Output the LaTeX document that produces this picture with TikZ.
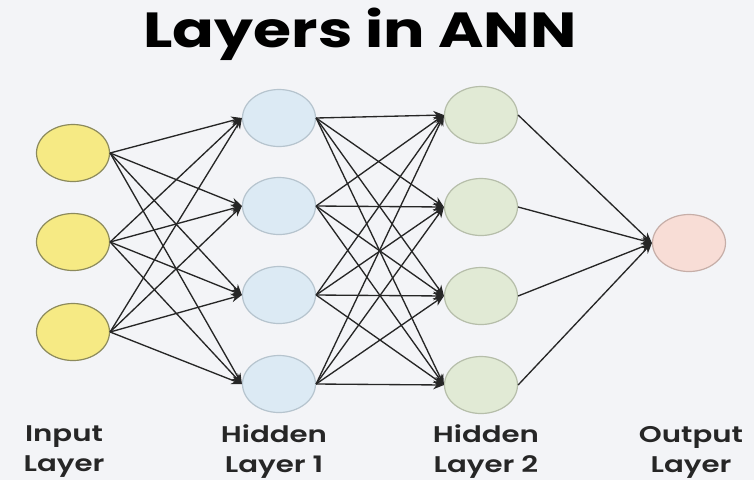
\documentclass[tikz,border=0pt]{standalone}
\usepackage{fontspec}
\setmainfont{Poppins}
\newfontfamily\labelfont{Poppins SemiBold}
\usepackage{tikz}
\usetikzlibrary{shapes.geometric,arrows.meta}

\definecolor{bgcol}{HTML}{F3F4F7}
\definecolor{inputfill}{HTML}{F6EA84}
\definecolor{inputdraw}{HTML}{8C8A5C}
\definecolor{hidafill}{HTML}{DCEAF4}
\definecolor{hidadraw}{HTML}{B6C4CE}
\definecolor{hidbfill}{HTML}{E1EAD5}
\definecolor{hidbdraw}{HTML}{B6BEAA}
\definecolor{outfill}{HTML}{F8DDD6}
\definecolor{outdraw}{HTML}{C6AEA8}
\definecolor{edgecol}{HTML}{262626}

\tikzset{
  neuron/.style={ellipse, minimum width=54.75pt, minimum height=42.75pt, inner sep=0pt, line width=0.9pt},
  layername/.style={align=center, xscale=1.29, font=\fontsize{17}{22.5}\selectfont\labelfont, text=black!85}
}

\begin{document}
\begin{tikzpicture}[x=0.75pt, y=-0.75pt, >={Stealth[length=8pt,width=6.5pt]}]
		\fill[bgcol] (0,0) rectangle (754,480);
		\useasboundingbox (0,0) rectangle (754,480);

		\node[anchor=base, xscale=1.25, font=\fontsize{37}{40}\selectfont\bfseries, text=black] (title) at (360,47) {Layers in ANN};

		% input layer
		\node[neuron, fill=inputfill, draw=inputdraw] (i1) at (73,153) {};
		\node[neuron, fill=inputfill, draw=inputdraw] (i2) at (73,242) {};
		\node[neuron, fill=inputfill, draw=inputdraw] (i3) at (73,332) {};

		% hidden layer 1
		\node[neuron, fill=hidafill, draw=hidadraw] (h1) at (279,118) {};
		\node[neuron, fill=hidafill, draw=hidadraw] (h2) at (279,206) {};
		\node[neuron, fill=hidafill, draw=hidadraw] (h3) at (279,295) {};
		\node[neuron, fill=hidafill, draw=hidadraw] (h4) at (279,384) {};

		% hidden layer 2
		\node[neuron, fill=hidbfill, draw=hidbdraw] (g1) at (481,115) {};
		\node[neuron, fill=hidbfill, draw=hidbdraw] (g2) at (481,207) {};
		\node[neuron, fill=hidbfill, draw=hidbdraw] (g3) at (481,296) {};
		\node[neuron, fill=hidbfill, draw=hidbdraw] (g4) at (481,385) {};

		% output layer
		\node[neuron, fill=outfill, draw=outdraw] (o) at (689,243) {};

		\node[layername] (inname) at (64,452) {Input\\Layer};
		\node[layername] (haname) at (274,452) {Hidden\\Layer 1};
		\node[layername] (hbname) at (486,452) {Hidden\\Layer 2};
		\node[layername] (outname) at (691,452) {Output\\Layer};

		\begin{scope}[edgecol, line width=1pt]
		\draw[->] (i1.east) -- (h1.west);
		\draw[->] (i1.east) -- (h2.west);
		\draw[->] (i1.east) -- (h3.west);
		\draw[->] (i1.east) -- (h4.west);
		\draw[->] (i2.east) -- (h1.west);
		\draw[->] (i2.east) -- (h2.west);
		\draw[->] (i2.east) -- (h3.west);
		\draw[->] (i2.east) -- (h4.west);
		\draw[->] (i3.east) -- (h1.west);
		\draw[->] (i3.east) -- (h2.west);
		\draw[->] (i3.east) -- (h3.west);
		\draw[->] (i3.east) -- (h4.west);

		\draw[->] (h1.east) -- (g1.west);
		\draw[->] (h1.east) -- (g2.west);
		\draw[->] (h1.east) -- (g3.west);
		\draw[->] (h1.east) -- (g4.west);
		\draw[->] (h2.east) -- (g1.west);
		\draw[->] (h2.east) -- (g2.west);
		\draw[->] (h2.east) -- (g3.west);
		\draw[->] (h2.east) -- (g4.west);
		\draw[->] (h3.east) -- (g1.west);
		\draw[->] (h3.east) -- (g2.west);
		\draw[->] (h3.east) -- (g3.west);
		\draw[->] (h3.east) -- (g4.west);
		\draw[->] (h4.east) -- (g1.west);
		\draw[->] (h4.east) -- (g2.west);
		\draw[->] (h4.east) -- (g3.west);
		\draw[->] (h4.east) -- (g4.west);

		\draw[->] (g1.east) -- (o.west);
		\draw[->] (g2.east) -- (o.west);
		\draw[->] (g3.east) -- (o.west);
		\draw[->] (g4.east) -- (o.west);
		\end{scope}
		\end{tikzpicture}
\end{document}
